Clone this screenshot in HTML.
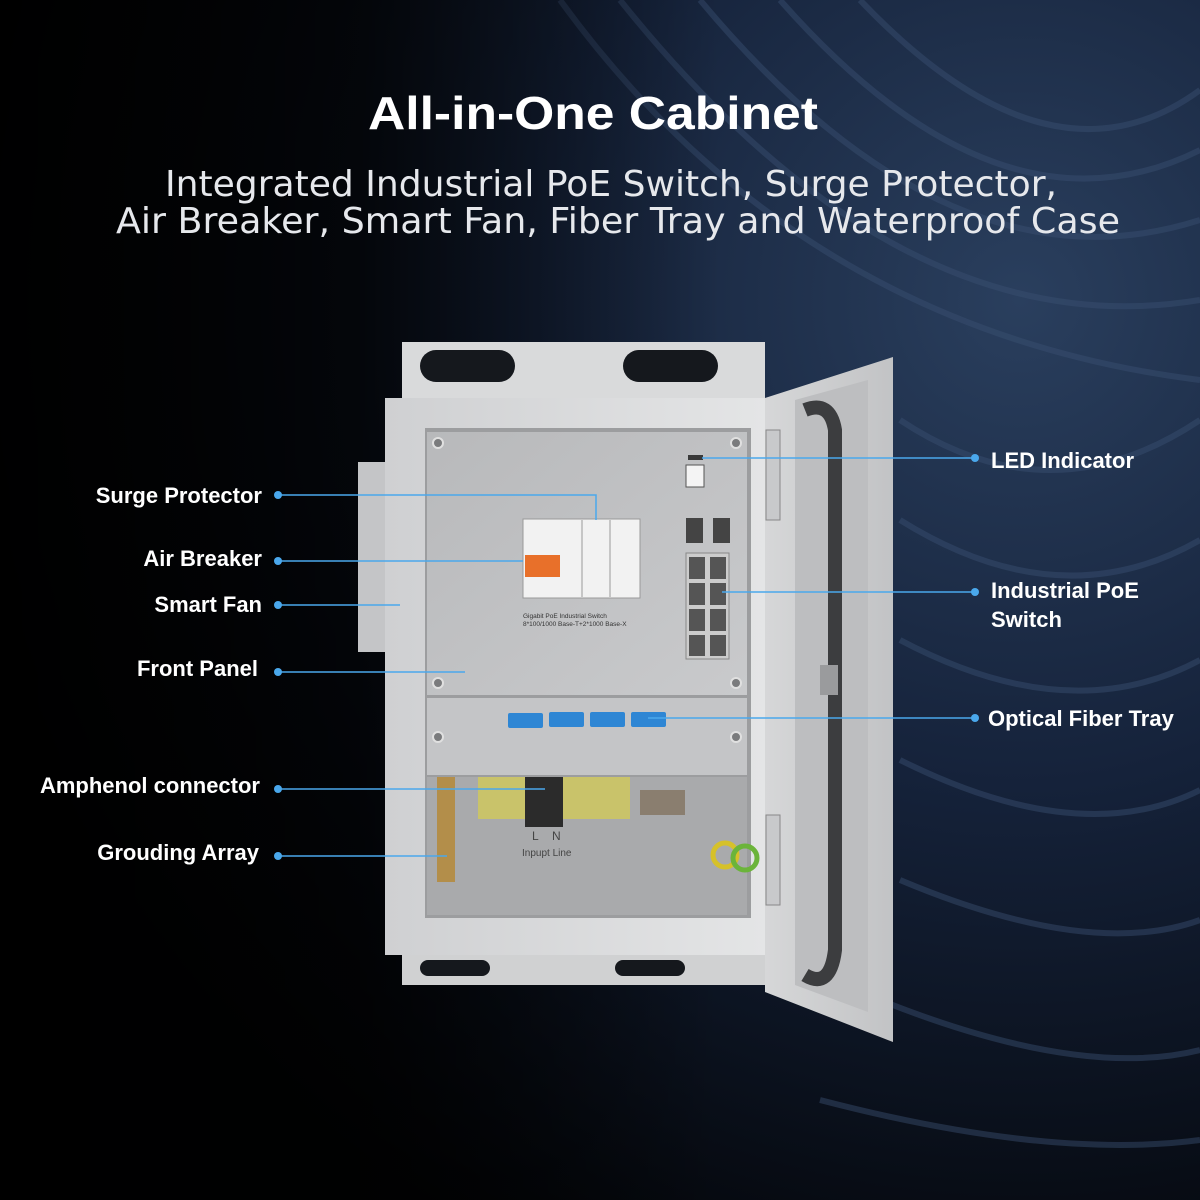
<!DOCTYPE html>
<html><head><meta charset="utf-8"><style>
html,body{margin:0;padding:0;width:1200px;height:1200px;overflow:hidden;background:#05070b}
svg{display:block}
text{font-family:"Liberation Sans",sans-serif}
</style></head><body>
<svg width="1200" height="1200" viewBox="0 0 1200 1200" xmlns="http://www.w3.org/2000/svg">
<defs>
<radialGradient id="bg" cx="0.85" cy="0.25" r="0.9">
<stop offset="0" stop-color="#2a3f5e"/><stop offset="0.45" stop-color="#15223a"/><stop offset="1" stop-color="#020305"/>
</radialGradient>
<linearGradient id="shade" x1="0" x2="1"><stop offset="0" stop-color="#000" stop-opacity="0.95"/><stop offset="0.3" stop-color="#000" stop-opacity="0.75"/><stop offset="0.6" stop-color="#000" stop-opacity="0"/></linearGradient>
<linearGradient id="body" x1="0" x2="1"><stop offset="0" stop-color="#cfd0d2"/><stop offset="1" stop-color="#e4e5e6"/></linearGradient>
<linearGradient id="panel" x1="0" y1="0" x2="1" y2="1"><stop offset="0" stop-color="#b8b9bb"/><stop offset="1" stop-color="#c9cacc"/></linearGradient>
<linearGradient id="door" x1="0" x2="1"><stop offset="0" stop-color="#d6d7d8"/><stop offset="1" stop-color="#c2c3c5"/></linearGradient>
</defs>
<rect width="1200" height="1200" fill="url(#bg)"/>
<g fill="none" stroke="#3b5173" stroke-width="6" opacity="0.45">
<path d="M620 0 Q900 350 1200 300"/><path d="M700 0 Q950 300 1200 220"/><path d="M780 0 Q1000 250 1200 150"/>
<path d="M860 0 Q1050 200 1200 90"/><path d="M900 420 Q1050 520 1200 420"/><path d="M900 520 Q1060 620 1200 540"/>
<path d="M900 640 Q1070 730 1200 660"/><path d="M900 760 Q1080 850 1200 790"/><path d="M900 880 Q1090 960 1200 920"/>
<path d="M880 1000 Q1080 1080 1200 1050"/><path d="M820 1100 Q1050 1160 1200 1140"/><path d="M560 0 Q800 330 1200 380"/>
</g>
<rect width="1200" height="1200" fill="url(#shade)"/>
<text x="368" y="129" textLength="450" lengthAdjust="spacingAndGlyphs" fill="#fff" font-size="46" font-weight="bold">All-in-One Cabinet</text>
<text x="165" y="196" textLength="892" lengthAdjust="spacingAndGlyphs" fill="#e6e8ec" font-size="36" style="font-family:'DejaVu Sans',sans-serif">Integrated Industrial PoE Switch, Surge Protector,</text>
<text x="116" y="233" textLength="1004" lengthAdjust="spacingAndGlyphs" fill="#e6e8ec" font-size="36" style="font-family:'DejaVu Sans',sans-serif">Air Breaker, Smart Fan, Fiber Tray and Waterproof Case</text>

<path d="M402 342 H765 V400 H402 Z" fill="#d9dadb"/>
<rect x="420" y="350" width="95" height="32" rx="16" fill="#15181d"/>
<rect x="623" y="350" width="95" height="32" rx="16" fill="#15181d"/>
<path d="M402 950 H765 V985 H402 Z" fill="#d0d1d2"/>
<rect x="420" y="960" width="70" height="16" rx="8" fill="#15181d"/>
<rect x="615" y="960" width="70" height="16" rx="8" fill="#15181d"/>
<rect x="358" y="462" width="44" height="190" fill="#c4c5c7"/>
<rect x="385" y="398" width="382" height="557" fill="url(#body)"/>
<rect x="425" y="428" width="326" height="490" fill="#9c9d9f"/>
<rect x="427" y="432" width="320" height="263" fill="url(#panel)"/>
<rect x="427" y="698" width="320" height="77" fill="#c4c5c7"/>
<rect x="427" y="777" width="320" height="138" fill="#a9aaac"/>
<g fill="#7a7b7d" stroke="#e0e0e0" stroke-width="2">
<circle cx="438" cy="443" r="5"/><circle cx="736" cy="443" r="5"/><circle cx="438" cy="683" r="5"/><circle cx="736" cy="683" r="5"/>
<circle cx="438" cy="737" r="5"/><circle cx="736" cy="737" r="5"/></g>
<rect x="523" y="519" width="117" height="79" fill="#f2f2f2" stroke="#999"/>
<rect x="525" y="555" width="35" height="22" fill="#e8702a"/>
<line x1="582" y1="520" x2="582" y2="597" stroke="#999"/><line x1="610" y1="520" x2="610" y2="597" stroke="#999"/>
<text x="523" y="618" font-size="6.5" fill="#333">Gigabit PoE Industrial Switch</text>
<text x="523" y="626" font-size="6.5" fill="#333">8*100/1000 Base-T+2*1000 Base-X</text>
<rect x="686" y="465" width="18" height="22" fill="#f4f4f4" stroke="#555"/>
<rect x="688" y="455" width="15" height="5" fill="#3a3a3a"/>
<rect x="686" y="518" width="17" height="25" fill="#444"/><rect x="713" y="518" width="17" height="25" fill="#444"/>
<rect x="686" y="553" width="43" height="106" fill="#ccc" stroke="#888"/>
<g fill="#555"><rect x="689" y="557" width="16" height="22"/><rect x="710" y="557" width="16" height="22"/>
<rect x="689" y="583" width="16" height="22"/><rect x="710" y="583" width="16" height="22"/>
<rect x="689" y="609" width="16" height="22"/><rect x="710" y="609" width="16" height="22"/>
<rect x="689" y="635" width="16" height="21"/><rect x="710" y="635" width="16" height="21"/></g>
<g fill="#2e86d4"><rect x="508" y="713" width="35" height="15" rx="2"/><rect x="549" y="712" width="35" height="15" rx="2"/>
<rect x="590" y="712" width="35" height="15" rx="2"/><rect x="631" y="712" width="35" height="15" rx="2"/></g>
<rect x="437" y="777" width="18" height="105" fill="#b38e4a"/>
<rect x="478" y="777" width="152" height="42" fill="#c9c36a"/>
<rect x="525" y="777" width="38" height="50" fill="#2b2b2b"/>
<rect x="640" y="790" width="45" height="25" fill="#8a7e6f"/>
<text x="532" y="840" font-size="12" fill="#444" font-family="Liberation Serif">L&#160;&#160;&#160;&#160;N</text>
<text x="522" y="856" font-size="10" fill="#444" font-family="Liberation Mono">Inpupt Line</text>
<circle cx="725" cy="855" r="12" fill="none" stroke="#d6c12a" stroke-width="5"/>
<circle cx="745" cy="858" r="12" fill="none" stroke="#6bb43a" stroke-width="5"/>
<path d="M765 398 L893 357 L893 1042 L765 992 Z" fill="url(#door)"/>
<path d="M795 400 L868 380 L868 1012 L795 985 Z" fill="#bdbec0"/>
<path d="M805 410 Q830 400 835 430 L835 950 Q830 990 805 975" fill="none" stroke="#3c3d3f" stroke-width="14"/>
<rect x="766" y="430" width="14" height="90" fill="#c8c9cb" stroke="#888"/>
<rect x="766" y="815" width="14" height="90" fill="#c8c9cb" stroke="#888"/>
<rect x="820" y="665" width="18" height="30" fill="#9a9b9d"/>

<g stroke="#4aa8ec" stroke-width="1.5" fill="none">
<path d="M278 495 H596 V520"/><path d="M278 561 H523"/><path d="M278 605 H400"/><path d="M278 672 H465"/>
<path d="M278 789 H545"/><path d="M278 856 H447"/>
<path d="M975 458 H702"/><path d="M975 592 H722"/><path d="M975 718 H648"/>
</g>
<g fill="#4aa8ec">
<circle cx="278" cy="495" r="4"/><circle cx="278" cy="561" r="4"/><circle cx="278" cy="605" r="4"/><circle cx="278" cy="672" r="4"/>
<circle cx="278" cy="789" r="4"/><circle cx="278" cy="856" r="4"/>
<circle cx="975" cy="458" r="4"/><circle cx="975" cy="592" r="4"/><circle cx="975" cy="718" r="4"/>
</g>
<g fill="#fff" font-size="22" font-weight="bold">
<text x="262" y="503" text-anchor="end">Surge Protector</text>
<text x="262" y="566" text-anchor="end">Air Breaker</text>
<text x="262" y="612" text-anchor="end">Smart Fan</text>
<text x="258" y="676" text-anchor="end">Front Panel</text>
<text x="260" y="793" text-anchor="end">Amphenol connector</text>
<text x="259" y="860" text-anchor="end">Grouding Array</text>
<text x="991" y="468">LED Indicator</text>
<text x="991" y="598">Industrial PoE</text>
<text x="991" y="627">Switch</text>
<text x="988" y="726">Optical Fiber Tray</text>
</g>
</svg>
</body></html>
